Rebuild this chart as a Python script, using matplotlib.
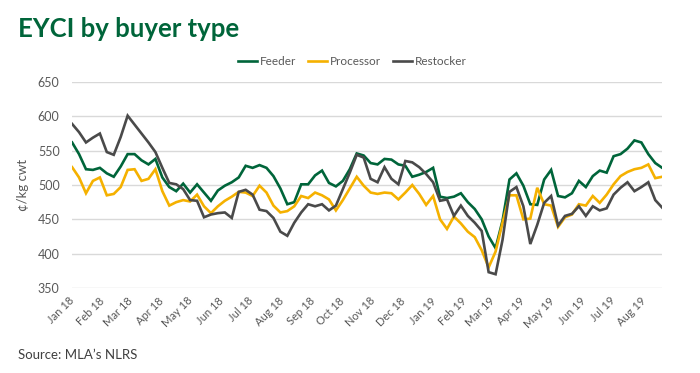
import numpy as np
import pandas as pd
import matplotlib
matplotlib.use("Agg")
import matplotlib.pyplot as plt
import matplotlib.dates as mdates

# weekly EYCI by buyer type, c/kg cwt
weeks = pd.date_range("2018-01-01", periods=86, freq="7D")

feeder = [562, 545, 523, 522, 525, 517, 512, 527, 545, 545,
          536, 530, 538, 511, 497, 491, 502, 489, 501, 489,
          477, 492, 499, 504, 511, 528, 525, 529, 525, 513,
          495, 472, 475, 501, 501, 514, 521, 503, 498, 506,
          523, 546, 543, 532, 530, 538, 537, 530, 528, 512,
          515, 519, 525, 483, 481, 483, 488, 475, 465, 450,
          425, 408, 448, 508, 517, 499, 472, 471, 508, 522,
          484, 482, 488, 506, 497, 513, 521, 518, 542, 545,
          553, 565, 562, 545, 532, 525]

processor = [526, 511, 488, 506, 511, 485, 487, 497, 522, 523,
             506, 509, 523, 491, 470, 475, 478, 476, 486, 469,
             459, 469, 477, 483, 490, 489, 484, 499, 489, 470,
             460, 462, 469, 484, 481, 489, 485, 479, 463, 478,
             495, 512, 499, 489, 487, 489, 488, 479, 489, 500,
             487, 471, 484, 450, 436, 454, 444, 432, 424, 405,
             380, 403, 445, 485, 485, 450, 451, 496, 472, 470,
             439, 453, 457, 472, 470, 484, 474, 486, 501, 513,
             519, 523, 525, 530, 510, 512]

restocker = [589, 577, 562, 569, 575, 548, 544, 570, 601, 588,
             575, 562, 548, 525, 503, 501, 494, 478, 477, 453,
             457, 459, 460, 452, 490, 493, 486, 464, 462, 452,
             432, 426, 445, 460, 472, 469, 472, 463, 470, 494,
             518, 544, 540, 509, 504, 526, 509, 501, 535, 533,
             526, 516, 504, 477, 479, 455, 470, 455, 445, 433,
             373, 370, 420, 490, 497, 469, 414, 442, 474, 484,
             441, 455, 458, 469, 455, 469, 463, 466, 486, 496,
             504, 491, 497, 504, 478, 467]

series = [("Feeder", feeder, "#00653a"),
          ("Processor", processor, "#f5b100"),
          ("Restocker", restocker, "#4a4a4a")]

plt.rcParams['font.family'] = ['Lato', 'DejaVu Sans']
grey = "#595959"

fig = plt.figure(figsize=(7, 3.73), dpi=100)
ax = fig.add_axes([0.103, 0.228, 0.843, 0.552])

for name, vals, col in series:
    ax.plot(weeks, vals, color=col, lw=1.9, label=name, solid_joinstyle="miter")

ax.set_ylim(350, 650)
ax.set_yticks(range(350, 651, 50))
ax.set_xlim(weeks[0], weeks[-1])
ax.xaxis.set_major_locator(mdates.MonthLocator())
ax.xaxis.set_major_formatter(mdates.DateFormatter("%b %y"))
ax.grid(axis="y", color="#d9d9d9", lw=1)
ax.set_axisbelow(True)
for s in ax.spines.values():
    s.set_visible(False)
ax.tick_params(length=0, colors=grey, labelsize=9)
ax.tick_params(axis="x", pad=8, labelsize=8)
for lbl in ax.get_xticklabels():
    lbl.set_rotation(45)
    lbl.set_ha("right")
    lbl.set_va("center")
    lbl.set_rotation_mode("anchor")
ax.tick_params(axis="y", pad=9)
ax.set_ylabel("¢/kg cwt", color=grey, fontsize=9.5, labelpad=6)

ax.legend(loc="lower center", bbox_to_anchor=(0.475, 1.02), ncol=3, frameon=False,
          fontsize=8.5, labelcolor=grey, handlelength=1.6, handletextpad=0.25,
          columnspacing=1.0)

fig.text(0.026, 0.922, "EYCI by buyer type", color="#00653a", fontsize=18.5,
         fontweight="bold", va="center", ha="left")
fig.text(0.026, 0.048, "Source: MLA\u2019s NLRS", color="#404040", fontsize=9.5,
         va="center", ha="left")

fig.savefig("out.png", dpi=100)
